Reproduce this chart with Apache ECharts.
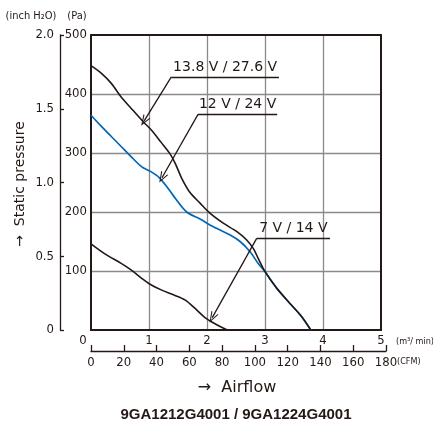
<!DOCTYPE html>
<html><head><meta charset="utf-8">
<script src="https://cdn.jsdelivr.net/npm/echarts@6/dist/echarts.min.js"></script>
<style>html,body{margin:0;padding:0;background:#fff}#c{width:433px;height:423px}</style>
</head><body><div id="c"></div><script>
// ---- data (airflow in m3/min, static pressure in Pa) ----
const airflow138 = [0, 0.18, 0.35, 0.52, 0.69, 0.90, 1.04, 1.21, 1.36, 1.45, 1.56, 1.70, 1.88, 2.05, 2.28, 2.51, 2.68, 2.80, 2.88, 3.00, 3.20, 3.43, 3.63, 3.79];
const pressure138 = [448, 435, 418, 395, 376, 353, 339, 318, 299, 283, 258, 234, 215, 198, 181, 167, 153, 138, 122, 99, 71, 45, 23, 0];
const airflow12 = [0, 0.18, 0.35, 0.52, 0.69, 0.87, 1.04, 1.18, 1.33, 1.41, 1.65, 1.88, 2.11, 2.40, 2.57, 2.74, 2.88, 3.00, 3.20, 3.43, 3.63, 3.79];
const pressure12 = [364, 345, 328, 311, 294, 277, 268, 258, 240, 229, 200, 188, 175, 161, 150, 133, 113, 99, 71, 45, 23, 0];
const airflow7 = [0, 0.24, 0.52, 0.69, 0.87, 1.01, 1.21, 1.44, 1.62, 1.79, 1.96, 2.13, 2.35];
const pressure7 = [146, 129, 113, 102, 88, 78, 68, 59, 51, 37, 21.5, 11, 0];
const seriesNames = ['13.8 V / 27.6 V', '12 V / 24 V', '7 V / 14 V'];
const inchTicks = [0, 0.5, 1.0, 1.5, 2.0];
const cfmRange = [0, 180];

// ---- annotation anchors (data coords: underline start, underline end, arrow tip) ----
const annotStart = [[1.385, 429], [1.845, 365.5], [2.857, 155.4]];
const annotEnd = [[3.24, 429], [3.21, 365.5], [4.12, 155.4]];
const annotTip = [[0.914, 354], [1.224, 258], [2.09, 20.9]];

const INK = '#231815', BLUE = '#0068b7', GRIDC = '#8a8a8a';
const NARROW = '"DejaVu Sans Condensed","Liberation Sans Narrow",sans-serif';
const zip = (xs, ys) => xs.map((x, i) => [x, ys[i]]);
const arrowPath = 'path://M5,0L10,12L8.6,12L5,3.2L1.4,12L0,12Z';

const markData = [];
seriesNames.forEach((t, i) => {
  markData.push([
    {coord: annotStart[i], symbol: 'none', label: {show: true, position: 'insideMiddleTop', formatter: t, distance: 3,
      color: INK, fontFamily: 'DejaVu Sans', fontSize: 14}},
    {coord: annotEnd[i], symbol: 'none'}
  ]);
  markData.push([
    {coord: annotStart[i], symbol: 'none', label: {show: false}},
    {coord: annotTip[i], symbol: arrowPath, symbolSize: [8, 11]}
  ]);
});

const chart = echarts.init(document.getElementById('c'), null, {renderer: 'canvas'});
const labelBase = {color: INK, fontFamily: NARROW, fontSize: 13};
chart.setOption({
  animation: false,
  backgroundColor: '#fff',
  grid: [
    {left: 91, top: 35, width: 290, height: 295},
    {left: 91, top: 350, width: 295, height: 1}
  ],
  xAxis: [
    {gridIndex: 0, type: 'value', position: 'bottom', min: 0, max: 5, interval: 1,
     axisLine: {show: true, onZero: false, lineStyle: {color: INK, width: 2}},
     axisTick: {show: false},
     axisLabel: Object.assign({}, labelBase, {margin: 4, showMinLabel: true,
       formatter: v => v === 0 ? '{z|0}' : String(v),
       rich: {z: {padding: [0, 16, 0, 0], color: INK, fontFamily: NARROW, fontSize: 13}}}),
     splitLine: {show: true, showMinLine: false, showMaxLine: false, lineStyle: {color: GRIDC, width: 1.3}}},
    {gridIndex: 0, type: 'value', position: 'top', min: 0, max: 5,
     axisLine: {show: true, onZero: false, lineStyle: {color: INK, width: 2}},
     axisTick: {show: false}, axisLabel: {show: false}, splitLine: {show: false}},
    {gridIndex: 1, type: 'value', position: 'bottom', min: cfmRange[0], max: cfmRange[1], interval: 20,
     axisLine: {show: true, onZero: false, lineStyle: {color: INK, width: 1.3}},
     axisTick: {show: true, inside: true, length: 6, lineStyle: {color: INK, width: 1.3}},
     axisLabel: Object.assign({}, labelBase, {margin: 5, showMinLabel: true, showMaxLabel: true}),
     splitLine: {show: false}}
  ],
  yAxis: [
    {gridIndex: 0, type: 'value', position: 'left', min: 0, max: 500, interval: 100,
     axisLine: {show: true, onZero: false, lineStyle: {color: INK, width: 2}},
     axisTick: {show: false},
     axisLabel: Object.assign({}, labelBase, {margin: 4, formatter: v => v === 0 ? '' : String(v)}),
     splitLine: {show: true, showMinLine: false, showMaxLine: false, lineStyle: {color: GRIDC, width: 1.3}}},
    {gridIndex: 0, type: 'value', position: 'left', offset: 31, min: inchTicks[0], max: inchTicks[inchTicks.length - 1], interval: 0.5,
     axisLine: {show: true, onZero: false, lineStyle: {color: INK, width: 1.3}},
     axisTick: {show: true, inside: true, length: 4, lineStyle: {color: INK, width: 1.3}},
     axisLabel: Object.assign({}, labelBase, {margin: 6, formatter: v => v === 0 ? '0' : v.toFixed(1)}),
     splitLine: {show: false}},
    {gridIndex: 0, type: 'value', position: 'right', min: 0, max: 500,
     axisLine: {show: true, onZero: false, lineStyle: {color: INK, width: 2}},
     axisTick: {show: false}, axisLabel: {show: false}, splitLine: {show: false}},
    {gridIndex: 1, type: 'value', show: false, min: 0, max: 1}
  ],
  series: [
    {name: seriesNames[1], type: 'line', xAxisIndex: 0, yAxisIndex: 0, data: zip(airflow12, pressure12),
     smooth: 0.3, showSymbol: false, lineStyle: {color: BLUE, width: 1.7}, z: 3},
    {name: seriesNames[0], type: 'line', xAxisIndex: 0, yAxisIndex: 0, data: zip(airflow138, pressure138),
     smooth: 0.3, showSymbol: false, lineStyle: {color: INK, width: 1.6}, z: 4},
    {name: seriesNames[2], type: 'line', xAxisIndex: 0, yAxisIndex: 0, data: zip(airflow7, pressure7),
     smooth: 0.3, showSymbol: false, lineStyle: {color: INK, width: 1.6}, z: 4,
     markLine: {silent: true, animation: false, symbol: 'none', label: {show: false},
       lineStyle: {color: INK, width: 1.3, type: 'solid'}, itemStyle: {color: INK},
       emphasis: {disabled: true}, data: markData}}
  ],
  graphic: [
    {type: 'text', x: 31, y: 16, style: {text: '(inch H\u2082O)', fill: INK, font: '11px ' + NARROW, align: 'center', verticalAlign: 'middle'}},
    {type: 'text', x: 77, y: 16, style: {text: '(Pa)', fill: INK, font: '11px ' + NARROW, align: 'center', verticalAlign: 'middle'}},
    {type: 'text', x: 396, y: 342, style: {text: '(m\u00b3/ min)', fill: INK, font: '9px ' + NARROW, align: 'left', verticalAlign: 'middle'}},
    {type: 'text', x: 397, y: 362, style: {text: '(CFM)', fill: INK, font: '9px ' + NARROW, align: 'left', verticalAlign: 'middle'}},
    {type: 'text', x: 20, y: 184, rotation: Math.PI / 2, style: {text: '\u2192  Static pressure', fill: INK, font: '14px "DejaVu Sans"', align: 'center', verticalAlign: 'middle'}},
    {type: 'text', x: 237, y: 388, style: {text: '\u2192  Airflow', fill: INK, font: '16px "DejaVu Sans"', align: 'center', verticalAlign: 'middle'}},
    {type: 'text', x: 236, y: 415, style: {text: '9GA1212G4001 / 9GA1224G4001', fill: INK, font: 'bold 15px "Liberation Sans"', align: 'center', verticalAlign: 'middle'}}
  ]
});
</script></body></html>
